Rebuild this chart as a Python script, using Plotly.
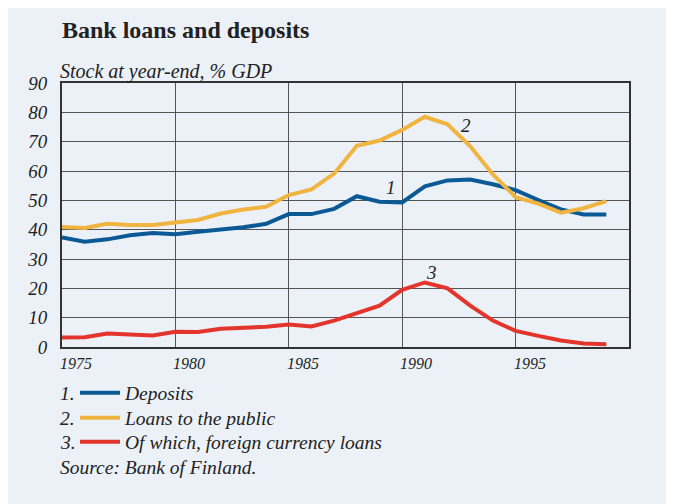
import plotly.graph_objects as go

years = list(range(1975, 2000))

deposits = [37.3, 35.9, 36.7, 38.1, 38.9, 38.4, 39.3, 39.9, 40.8, 42.0,
            45.3, 45.3, 47.1, 51.4, 49.5, 49.3, 54.8, 56.8, 57.1, 55.5,
            53.5, 50.1, 46.9, 45.2, 45.2]
loans = [40.9, 40.6, 42.0, 41.6, 41.6, 42.6, 43.3, 45.5, 46.9, 47.8,
         51.8, 53.7, 59.1, 68.6, 70.4, 74.0, 78.5, 75.9, 68.4, 58.8,
         51.1, 48.9, 45.8, 47.3, 49.7]
foreign = [3.2, 3.3, 4.6, 4.1, 3.9, 5.2, 5.1, 6.2, 6.6, 6.9,
           7.7, 7.0, 9.0, 11.7, 14.1, 19.5, 22.0, 20.0, 14.1, 9.0,
           5.5, 3.8, 2.2, 1.2, 0.9]

x_ticks = [1975, 1980, 1985, 1990, 1995]
y_ticks = list(range(0, 100, 10))

BG = "#ECF1F8"
FONT = "Liberation Serif"
INK = "#222"
# page is offset by the 8px body margin
OFF = 8
W, H = 674, 496
ML, MR, MT, MB = 54, 53, 75, 157
PW, PH = W - ML - MR, H - MT - MB


def px_x(p):
    return (p - OFF - ML) / PW


def px_y(p):
    return (H - MB - (p - OFF)) / PH


fig = go.Figure()

series = [
    ("Deposits", deposits, "#0B5A96", "legend", 393),
    ("Loans to the public", loans, "#F0B440", "legend2", 418),
    ("Of which, foreign currency loans", foreign, "#E3352B", "legend3", 442),
]
for name, vals, col, leg, _ in series:
    fig.add_trace(go.Scatter(
        x=years, y=vals, mode="lines", name=f"<i>{name}</i>",
        line=dict(color=col, width=4), legend=leg,
    ))

annotations = []
# x tick labels, left-aligned on the gridlines
for t in x_ticks:
    annotations.append(dict(
        x=t, y=0, xref="x", yref="y", text=f"<i>{t}</i>",
        showarrow=False, xanchor="left", yanchor="top", yshift=-6, xshift=-4,
        font=dict(family=FONT, size=16, color=INK),
    ))

# line labels
for txt, xx, yy in [("1", 1989.5, 54.5), ("2", 1992.8, 75.5), ("3", 1991.3, 25.5)]:
    annotations.append(dict(
        x=xx, y=yy, xref="x", yref="y", text=f"<i>{txt}</i>",
        showarrow=False, font=dict(family=FONT, size=19, color=INK),
    ))

annotations += [
    dict(x=px_x(60), y=px_y(30), xref="paper", yref="paper", xanchor="left", yanchor="middle",
         text="<b>Bank loans and deposits</b>", showarrow=False,
         font=dict(family=FONT, size=24, color=INK)),
    dict(x=px_x(58), y=px_y(71), xref="paper", yref="paper", xanchor="left", yanchor="middle",
         text="<i>Stock at year-end, % GDP</i>", showarrow=False,
         font=dict(family=FONT, size=20, color=INK)),
    dict(x=px_x(58), y=px_y(467), xref="paper", yref="paper", xanchor="left", yanchor="middle",
         text="<i>Source: Bank of Finland.</i>", showarrow=False,
         font=dict(family=FONT, size=19.5, color=INK)),
]

legends = {}
for i, (_, _, _, leg, yy) in enumerate(series):
    annotations.append(dict(
        x=px_x(58), y=px_y(yy), xref="paper", yref="paper", xanchor="left", yanchor="middle",
        text=f"<i>{i + 1}.</i>", showarrow=False,
        font=dict(family=FONT, size=19.5, color=INK),
    ))
    legends[leg] = dict(
        x=px_x(75), y=px_y(yy), xanchor="left", yanchor="middle",
        bgcolor="rgba(0,0,0,0)", borderwidth=0,
        font=dict(family=FONT, size=19.5, color=INK),
        itemwidth=40,
    )

fig.update_layout(
    width=W, height=H,
    margin=dict(l=ML, r=MR, t=MT, b=MB),
    paper_bgcolor=BG, plot_bgcolor=BG,
    font=dict(family=FONT, size=17, color=INK),
    showlegend=True,
    annotations=annotations,
    xaxis=dict(
        range=[1975, 2000], tickvals=x_ticks, showticklabels=False,
        showgrid=True, gridcolor="#555", gridwidth=1,
        showline=True, linecolor="#333", linewidth=2, mirror=True,
        zeroline=False, ticks="",
    ),
    yaxis=dict(
        range=[0, 90], tickvals=y_ticks, ticktext=[f"<i>{v}</i>" for v in y_ticks],
        showgrid=True, gridcolor="#555", gridwidth=1,
        showline=True, linecolor="#333", linewidth=2, mirror=True,
        zeroline=False, ticks="", ticklabelstandoff=9,
        tickfont=dict(family=FONT, size=19, color=INK),
    ),
    **legends,
)

fig.write_html("out.html")
